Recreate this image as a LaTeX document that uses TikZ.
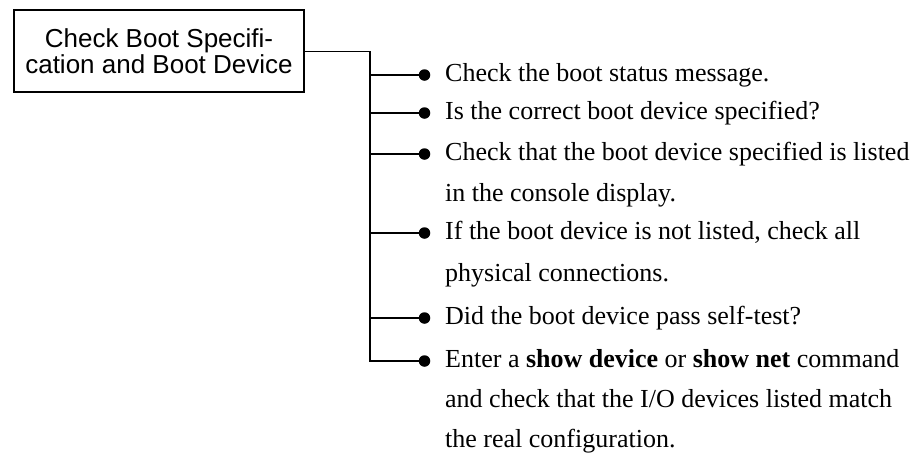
\documentclass[tikz,border=0pt]{standalone}
\usepackage{fontspec}
\setmainfont{Liberation Serif}
\newfontfamily\boxfont{Liberation Sans}
\tikzset{
  stepbox/.style={draw, line width=2.2pt, inner sep=0pt, minimum width=290pt, minimum height=82pt, align=center, font=\boxfont\fontsize{26}{26}\selectfont},
  bullet/.style={circle, fill=black, inner sep=0pt, minimum size=11.5pt},
  itemtext/.style={anchor=base west, inner sep=0pt, font=\fontsize{26}{30}\selectfont},
  conn/.style={line width=1.5pt}
}
\begin{document}
\begin{tikzpicture}[x=1pt,y=1pt]
\useasboundingbox (0,0) rectangle (919,-456);
\node[stepbox] (box) at (159,-51.3) {Check Boot Specifi-\\cation and Boot Device};
\coordinate (j) at (370,-51.3);
\foreach \i/\y in {1/75,2/113,3/154,4/233,5/318,6/361}{
  \coordinate (b\i) at (370,-\y);
  \node[bullet] (d\i) at (424.5,-\y) {};
}
\draw[conn] (box.east) -- (j) -- (b6) -- (d6);
\foreach \i in {1,...,5}{ \draw[conn] (b\i) -- (d\i); }
\node[itemtext] (t1) at (445,-81) {Check the boot status message.};
\node[itemtext] (t2) at (445,-119) {Is the correct boot device specified?};
\node[itemtext] (t3a) at (445,-160) {Check that the boot device specified is listed};
\node[itemtext] (t3b) at (445,-201) {in the console display.};
\node[itemtext] (t4a) at (445,-239) {If the boot device is not listed, check all};
\node[itemtext] (t4b) at (445,-281) {physical connections.};
\node[itemtext] (t5) at (445,-324) {Did the boot device pass self-test?};
\node[itemtext] (t6a) at (445,-367) {Enter a \textbf{show device} or \textbf{show net} command};
\node[itemtext] (t6b) at (445,-407) {and check that the I/O devices listed match};
\node[itemtext] (t6c) at (445,-447) {the real configuration.};
\end{tikzpicture}
\end{document}
